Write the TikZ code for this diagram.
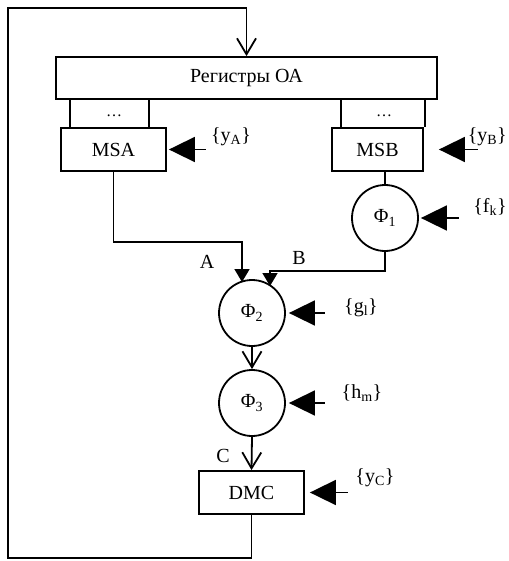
\documentclass[tikz,border=0pt]{standalone}
\usepackage{fontspec}
\setmainfont{Liberation Serif}
\usetikzlibrary{calc, positioning}
\usetikzlibrary{arrows.meta}

\tikzset{
  ln/.style={line width=1.8pt},
  blk/.style={draw, ln, rectangle, minimum height=43pt, inner sep=0pt},
  fun/.style={draw, ln, circle, minimum size=66pt, inner sep=0pt},
  ctl/.style={ln, -{Triangle[length=26pt, width=25pt]}},
  sarr/.style={ln, -{Triangle[length=13pt, width=15pt]}},
  varr/.style={ln, -{Straight Barb[length=16pt, width=19pt]}},
  lbl/.style={inner sep=0pt}
}

\begin{document}
\begin{tikzpicture}[x=1pt, y=-1pt, font=\fontsize{20}{24}\selectfont]
\useasboundingbox (0,0) rectangle (508,561);

\node[blk, minimum width=381pt, minimum height=42pt] (reg) at (246.5, 78) {Регистры ОА};
\node[blk, minimum width=105pt] (MSA) at (113.5, 149.5) {MSA};
\node[blk, minimum width=91pt] (MSB) at (377.5, 149.5) {MSB};

\node[fun] (Phi1) at (385, 218) {Φ\textsubscript{1}};
\node[fun] (Phi2) at (252, 313) {Φ\textsubscript{2}};
\node[fun] (Phi3) at (252, 403) {Φ\textsubscript{3}};
\node[blk, minimum width=105pt] (DMC) at (251.5, 492.5) {DMC};

% register outputs
\draw[ln] ([xshift=10pt]MSA.north west) -- ([xshift=10pt]MSA.north west |- reg.south);
\draw[ln] ([xshift=-18pt]MSA.north east) -- ([xshift=-18pt]MSA.north east |- reg.south);
\draw[ln] ([xshift=10pt]MSB.north west) -- ([xshift=10pt]MSB.north west |- reg.south);
\draw[ln] ([xshift=1pt]MSB.north east) -- ([xshift=1pt]MSB.north east |- reg.south);
\node[lbl, font=\fontsize{16}{18}\selectfont] (dA) at (114, 116) {…};
\node[lbl, font=\fontsize{16}{18}\selectfont] (dB) at (384, 116) {…};

% control inputs
\draw[ctl] ([xshift=39pt]MSA.east) -- ([xshift=2pt]MSA.east);
\draw[ctl] ([xshift=54pt]MSB.east) -- ([xshift=15pt]MSB.east);
\draw[ctl] ([xshift=40pt]Phi1.east) -- ([xshift=2pt]Phi1.east);
\draw[ctl] ([xshift=39pt]Phi2.east) -- ([xshift=3pt]Phi2.east);
\draw[ctl] ([xshift=39pt]Phi3.east) -- ([xshift=3pt]Phi3.east);
\draw[ctl] ([xshift=43pt]DMC.east) -- ([xshift=5pt]DMC.east);

\node[lbl] (yA) at (231, 137) {\{y\textsubscript{A}\}};
\node[lbl, anchor=east] (yB) at (507, 137) {\{y\textsubscript{B}\}};
\node[lbl] (fk) at (490, 207) {\{f\textsubscript{k}\}};
\node[lbl] (gl) at (361, 308) {\{g\textsubscript{l}\}};
\node[lbl] (hm) at (362, 393) {\{h\textsubscript{m}\}};
\node[lbl] (yC) at (375, 478) {\{y\textsubscript{C}\}};

% data paths
\coordinate (ain) at (242, 242);
\coordinate (bin) at (270, 271);
\draw[ln] (MSB.south -| Phi1) -- (Phi1.north);
\draw[sarr] (MSA.south) |- (ain) -- ++(0, 40);
\draw[sarr] (Phi1.south) |- (bin) -- ++(0, 15);
\draw[varr] (Phi2.south) -- (Phi3.north);
\draw[varr] (Phi3.south) -- (DMC.north);

\node[lbl] (lA) at (207, 262) {A};
\node[lbl] (lB) at (299, 258) {B};
\node[lbl] (lC) at (223, 456) {C};

% feedback
\coordinate (bl) at (8, 558);
\coordinate (tl) at (8, 8);
\draw[varr] (DMC.south) |- (bl) -- (tl) -| (reg.north);

\end{tikzpicture}
\end{document}
